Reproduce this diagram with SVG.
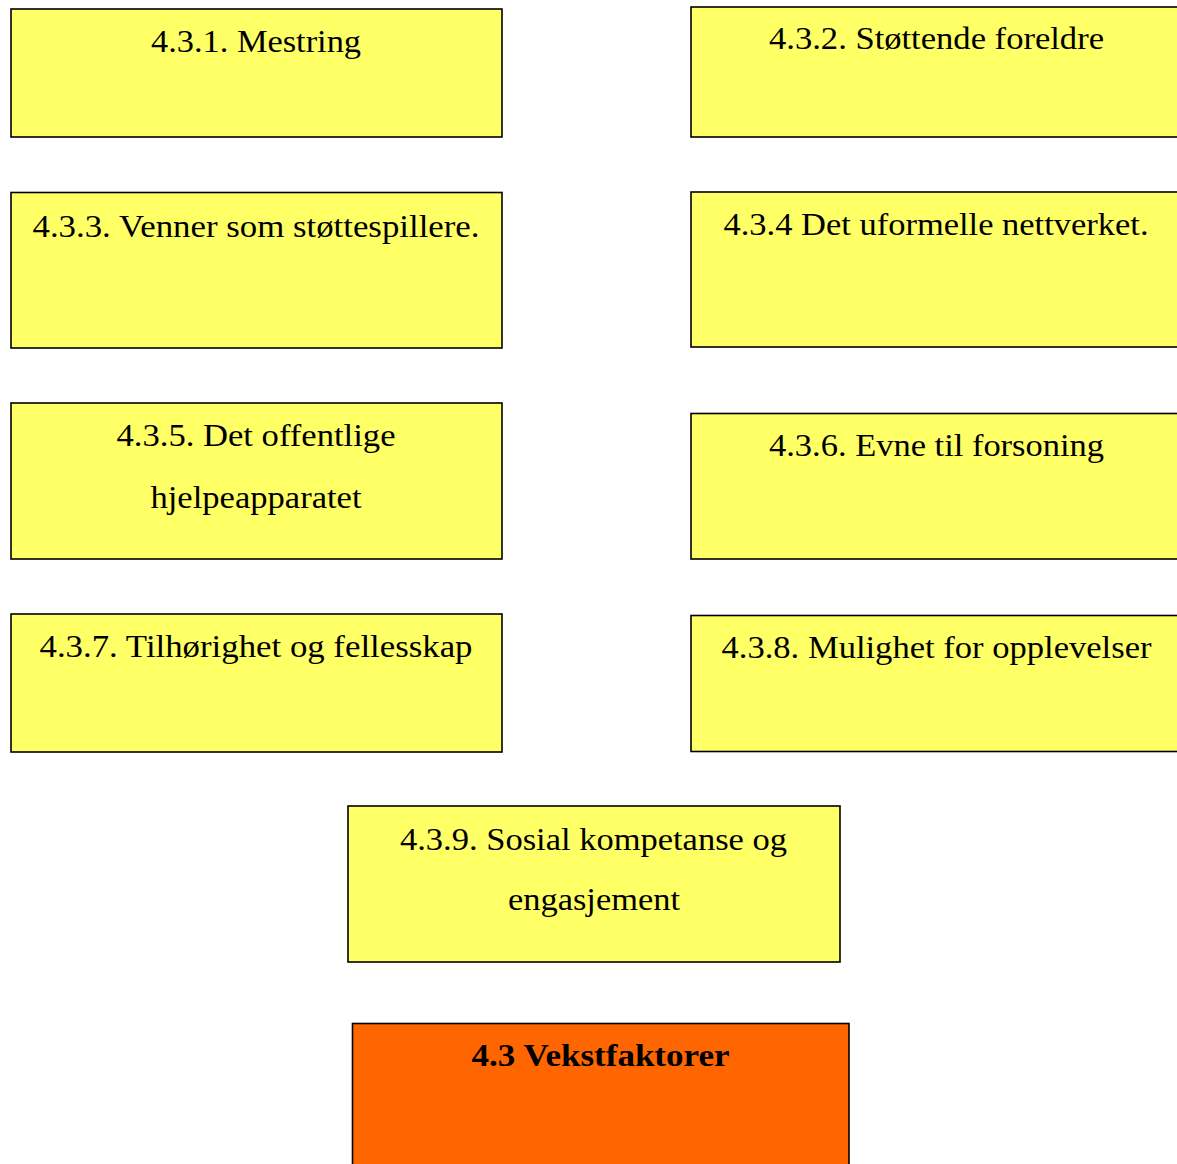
<svg xmlns="http://www.w3.org/2000/svg" width="1177" height="1164" viewBox="0 0 1177 1164">
<style>
.box{fill:#FFFF66;stroke:#000;stroke-width:1.6}
.main{fill:#FF6600;stroke:#000;stroke-width:1.6}
.t{font-family:"Liberation Serif","Times New Roman",serif;font-size:32px;fill:#000;text-anchor:middle}
.b{font-weight:bold}
</style>
<rect width="1177" height="1164" fill="#fff"/>
<g id="connectors"></g>
<g id="n431">
<rect class="box" x="11" y="9" width="491" height="128"/>
<text class="t" x="256" y="52" textLength="210" lengthAdjust="spacingAndGlyphs">4.3.1. Mestring</text>
</g>
<g id="n432">
<rect class="box" x="691" y="7" width="491" height="130"/>
<text class="t" x="936.5" y="49" textLength="335" lengthAdjust="spacingAndGlyphs">4.3.2. Støttende foreldre</text>
</g>
<g id="n433">
<rect class="box" x="11" y="192.5" width="491" height="155.5"/>
<text class="t" x="256" y="237" textLength="447" lengthAdjust="spacingAndGlyphs">4.3.3. Venner som støttespillere.</text>
</g>
<g id="n434">
<rect class="box" x="691" y="192" width="491" height="155"/>
<text class="t" x="936" y="235" textLength="425" lengthAdjust="spacingAndGlyphs">4.3.4 Det uformelle nettverket.</text>
</g>
<g id="n435">
<rect class="box" x="11" y="403" width="491" height="156"/>
<text class="t" x="256" y="446" textLength="279" lengthAdjust="spacingAndGlyphs">4.3.5. Det offentlige</text>
<text class="t" x="256" y="508" textLength="211" lengthAdjust="spacingAndGlyphs">hjelpeapparatet</text>
</g>
<g id="n436">
<rect class="box" x="691" y="413.5" width="491" height="145.5"/>
<text class="t" x="936.5" y="456" textLength="335" lengthAdjust="spacingAndGlyphs">4.3.6. Evne til forsoning</text>
</g>
<g id="n437">
<rect class="box" x="11" y="614" width="491" height="138"/>
<text class="t" x="256" y="657" textLength="433" lengthAdjust="spacingAndGlyphs">4.3.7. Tilhørighet og fellesskap</text>
</g>
<g id="n438">
<rect class="box" x="691" y="615.5" width="491" height="136"/>
<text class="t" x="936.5" y="658" textLength="430" lengthAdjust="spacingAndGlyphs">4.3.8. Mulighet for opplevelser</text>
</g>
<g id="n439">
<rect class="box" x="348" y="806" width="492" height="156"/>
<text class="t" x="593.5" y="850" textLength="387" lengthAdjust="spacingAndGlyphs">4.3.9. Sosial kompetanse og</text>
<text class="t" x="594" y="910" textLength="172" lengthAdjust="spacingAndGlyphs">engasjement</text>
</g>
<g id="n43">
<rect class="main" x="352.5" y="1023.5" width="496.5" height="150"/>
<text class="t b" x="600.5" y="1066" textLength="258" lengthAdjust="spacingAndGlyphs">4.3 Vekstfaktorer</text>
</g>
</svg>
